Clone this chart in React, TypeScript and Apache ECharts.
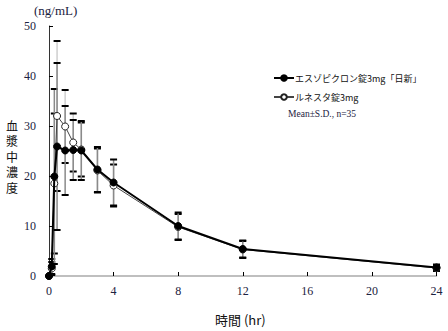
import React, { useEffect, useRef } from "react";
import * as echarts from "echarts";

const times = [0, 0.17, 0.33, 0.5, 1, 1.5, 2, 3, 4, 8, 12, 24];
const nissinMean = [0, 1.9, 19.9, 25.9, 25.1, 25.2, 25.1, 21.3, 18.7, 10.0, 5.4, 1.7];
const nissinSD = [0, 1.5, 17.5, 16.7, 8.9, 6.0, 5.9, 4.5, 4.6, 2.7, 1.7, 0.6];
const lunestaMean = [0, 1.5, 18.5, 32.0, 29.9, 26.7, 25.3, 21.1, 18.1, 9.8, 5.3, 1.6];
const lunestaSD = [0, 1.3, 14.0, 15.0, 7.3, 5.8, 5.4, 4.4, 4.2, 2.6, 1.7, 0.6];
const xTicks = [0, 4, 8, 12, 16, 20, 24];
const yTicks = [0, 10, 20, 30, 40, 50];
const seriesNames = ["エスゾピクロン錠3mg「日新」", "ルネスタ錠3mg"];
const yTitleChars = ["血", "漿", "中", "濃", "度"];

const serif = "'Liberation Serif', 'DejaVu Serif', serif";
const cjk = "'Noto Sans CJK JP', sans-serif";
const textColor = "#1c2240";

function errorBarSeries(mean: number[], sd: number[], barColor: string, z: number) {
  const data = times
    .map((t, i) => [t, mean[i] - sd[i], mean[i] + sd[i], sd[i]])
    .filter((d) => d[3] > 0);
  return {
    type: "custom",
    z,
    silent: true,
    encode: { x: 0, y: [1, 2] },
    data,
    renderItem: (params: any, api: any) => {
      const x = api.value(0);
      const lo = api.value(1);
      const hi = api.value(2);
      const top = api.coord([x, hi]);
      const bot = api.coord([x, lo]);
      const hw = 3.5;
      return {
        type: "group",
        children: [
          {
            type: "line",
            shape: { x1: top[0], y1: top[1], x2: bot[0], y2: bot[1] },
            style: { stroke: barColor, lineWidth: 1.5 },
          },
          {
            type: "line",
            shape: { x1: top[0] - hw, y1: top[1], x2: top[0] + hw, y2: top[1] },
            style: { stroke: "#000", lineWidth: 2 },
          },
          {
            type: "line",
            shape: { x1: bot[0] - hw, y1: bot[1], x2: bot[0] + hw, y2: bot[1] },
            style: { stroke: "#000", lineWidth: 2 },
          },
        ],
      };
    },
  };
}

export default function App() {
  const ref = useRef<HTMLDivElement>(null);
  useEffect(() => {
    if (!ref.current) return;
    const chart = echarts.init(ref.current, undefined, { renderer: "svg" });
    chart.setOption({
      animation: false,
      backgroundColor: "#fff",
      grid: { left: 49, right: 11.5, top: 26, bottom: 55 },
      xAxis: {
        type: "value",
        min: xTicks[0],
        max: xTicks[xTicks.length - 1],
        interval: 4,
        axisLine: { show: true, lineStyle: { color: "#aaa", width: 1.5 } },
        axisTick: { show: true, inside: true, length: 4, lineStyle: { color: "#000", width: 1 } },
        axisLabel: { color: textColor, fontFamily: serif, fontSize: 12, margin: 9 },
        splitLine: { show: false },
      },
      yAxis: {
        type: "value",
        min: yTicks[0],
        max: yTicks[yTicks.length - 1],
        interval: 10,
        axisLine: { show: true, lineStyle: { color: "#333", width: 1 } },
        axisTick: { show: true, inside: true, length: 4, lineStyle: { color: "#000", width: 1 } },
        axisLabel: { color: textColor, fontFamily: serif, fontSize: 12, margin: 13 },
        splitLine: { show: false },
      },
      legend: {
        orient: "vertical",
        left: 268,
        top: 67,
        itemWidth: 20,
        itemHeight: 7,
        itemGap: 7,
        data: seriesNames,
        textStyle: { fontFamily: cjk, fontSize: 9, color: "#111", lineHeight: 12, padding: [0, 0, 0, -4] },
      },
      graphic: [
        {
          type: "text",
          left: 34,
          top: 4,
          style: { text: "(ng/mL)", font: `13px ${serif}`, fill: textColor },
        },
        ...yTitleChars.map((c, i) => ({
          type: "text",
          x: 12,
          y: 125 + i * 15.5,
          style: {
            text: c,
            fontFamily: cjk,
            fontSize: 12,
            lineHeight: 13,
            fill: "#111",
            align: "center",
            verticalAlign: "middle",
          },
        })),
        {
          type: "text",
          left: 215,
          top: 313,
          style: { text: "時間 (hr)", font: `13px ${cjk}`, fill: "#111" },
        },
        {
          type: "text",
          left: 288,
          top: 109,
          style: { text: "Mean±S.D., n=35", font: `9.5px ${serif}`, fill: textColor },
        },
      ],
      series: [
        errorBarSeries(lunestaMean, lunestaSD, "#cfcfcf", 1),
        errorBarSeries(nissinMean, nissinSD, "#8a8a8a", 2),
        {
          name: seriesNames[1],
          type: "line",
          z: 3,
          data: times.map((t, i) => [t, lunestaMean[i]]),
          symbol: "circle",
          symbolSize: 7,
          showSymbol: true,
          lineStyle: { color: "#444", width: 1 },
          itemStyle: { color: "#fff", borderColor: "#222", borderWidth: 1 },
        },
        {
          name: seriesNames[0],
          type: "line",
          z: 4,
          data: times.map((t, i) => [t, nissinMean[i]]),
          symbol: "circle",
          symbolSize: 7,
          showSymbol: true,
          lineStyle: { color: "#000", width: 2 },
          itemStyle: { color: "#000", borderColor: "#000", borderWidth: 1 },
        },
      ],
    });
    return () => chart.dispose();
  }, []);
  return (
    <div
      ref={ref}
      style={{ position: "absolute", left: 0, top: 0, width: 448, height: 331 }}
    />
  );
}
